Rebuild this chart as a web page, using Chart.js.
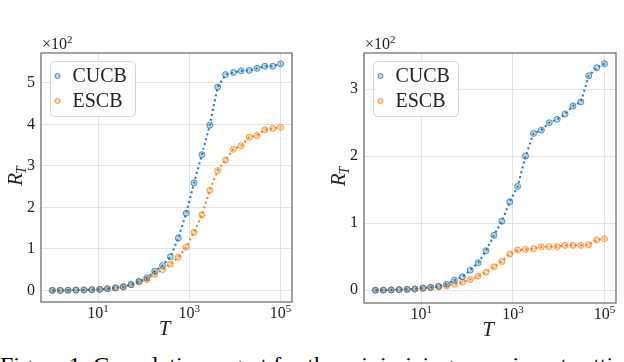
<!DOCTYPE html>
<html lang="en">
<head>
<meta charset="UTF-8">
<title>Cumulative regret</title>
<script src="https://cdn.jsdelivr.net/npm/chart.js"></script>
<style>
    body { margin: 0; width: 624px; height: 362px; overflow: hidden; background: #fff; position: relative; }
    .panel { position: absolute; top: 0; width: 312px; height: 340px; }
    #caption { position: absolute; left: 0; top: 353px; font-family: 'Liberation Serif', serif; font-size: 24px; line-height: 24px; white-space: nowrap; color: #000; }
</style>
</head>
<body>
    <div class="panel" style="left:0"><canvas id="leftChart" width="312" height="340"></canvas></div>
    <div class="panel" style="left:312px"><canvas id="rightChart" width="312" height="340"></canvas></div>
    <div id="caption">Figure 1: Cumulative regret for the minimizing experiment setting</div>

<script>
    // horizon values (log spaced, 30 points from 1 to 1e5)
    const T = [1, 1.487, 2.212, 3.290, 4.894, 7.279, 10.83, 16.10, 23.95, 35.62,
               52.98, 78.80, 117.2, 174.3, 259.3, 385.7, 573.7, 853.2, 1269, 1887,
               2807, 4175, 6210, 9237, 13738, 20434, 30392, 45204, 67234, 100000];
    const seriesNames = ['CUCB', 'ESCB'];
    const seriesColors = ['#1f77b4', '#ff7f0e'];
    const seriesEdges = ['rgba(31,119,180,0.75)', 'rgba(255,127,14,0.75)'];
    const seriesFills = ['rgba(31,119,180,0.3)', 'rgba(255,127,14,0.3)'];

    // regret in units of 10^2
    const cucbLeft = [0, 0, 0.005, 0.008, 0.01, 0.016, 0.024, 0.04, 0.06, 0.09,
                      0.14, 0.22, 0.30, 0.46, 0.60, 0.81, 1.26, 1.86, 2.59, 3.27,
                      3.98, 4.90, 5.20, 5.25, 5.29, 5.30, 5.35, 5.40, 5.40, 5.46];
    const escbLeft = [0, 0, 0, 0.008, 0.008, 0.016, 0.024, 0.04, 0.056, 0.08,
                      0.136, 0.20, 0.257, 0.39, 0.50, 0.63, 0.80, 1.04, 1.40, 1.82,
                      2.41, 2.89, 3.14, 3.40, 3.49, 3.69, 3.73, 3.87, 3.90, 3.93];
    const cucbRight = [0, 0.003, 0.006, 0.01, 0.015, 0.02, 0.035, 0.045, 0.06, 0.09,
                       0.15, 0.20, 0.30, 0.41, 0.59, 0.82, 1.03, 1.32, 1.55, 2.00,
                       2.34, 2.39, 2.50, 2.55, 2.63, 2.75, 2.81, 3.20, 3.32, 3.38];
    const escbRight = [0, 0.002, 0.005, 0.008, 0.012, 0.015, 0.025, 0.04, 0.05, 0.065,
                       0.09, 0.12, 0.16, 0.21, 0.27, 0.35, 0.43, 0.54, 0.60, 0.61,
                       0.62, 0.65, 0.65, 0.65, 0.67, 0.67, 0.67, 0.68, 0.75, 0.77];

    // ticks
    const xTicks = [10, 1000, 100000];
    const xTickExp = ['1', '3', '5'];
    const yTicksLeft = [0, 1, 2, 3, 4, 5];
    const yTicksRight = [0, 1, 2, 3];

    const serif = "'Liberation Serif', 'DejaVu Serif', serif";
    const textColor = '#222';

    // 文字・凡例・枠線を描くプラグイン
    const decorPlugin = {
        id: 'decor',
        afterDraw(chart) {
            const ctx = chart.ctx;
            const a = chart.chartArea;
            const xs = chart.scales.x;
            ctx.save();

            // frame
            ctx.strokeStyle = '#666';
            ctx.lineWidth = 1.2;
            ctx.strokeRect(a.left, a.top, a.right - a.left, a.bottom - a.top);

            ctx.fillStyle = textColor;
            ctx.textBaseline = 'alphabetic';

            // x tick labels 10^n
            xTicks.forEach((v, i) => {
                const px = xs.getPixelForValue(v);
                ctx.font = '16px ' + serif;
                const w1 = ctx.measureText('10').width;
                ctx.font = '11px ' + serif;
                const w2 = ctx.measureText(xTickExp[i]).width;
                const x0 = px - (w1 + w2) / 2;
                ctx.font = '16px ' + serif;
                ctx.textAlign = 'left';
                ctx.fillText('10', x0, a.bottom + 16);
                ctx.font = '11px ' + serif;
                ctx.fillText(xTickExp[i], x0 + w1, a.bottom + 10);
            });

            // offset text x10^2
            ctx.font = '16px ' + serif;
            ctx.textAlign = 'left';
            ctx.fillText('×10', a.left + 1, a.top - 4);
            const wm = ctx.measureText('×10').width;
            ctx.font = '11px ' + serif;
            ctx.fillText('2', a.left + 1 + wm, a.top - 10);

            // x label T
            ctx.font = 'italic 21px ' + serif;
            ctx.textAlign = 'center';
            ctx.fillText('T', (a.left + a.right) / 2 - 2, a.bottom + 33);

            // y label R_T
            ctx.save();
            ctx.translate(a.left - 26, (a.top + a.bottom) / 2 - 2);
            ctx.rotate(-Math.PI / 2);
            ctx.textAlign = 'left';
            ctx.font = 'italic 21px ' + serif;
            const wr = ctx.measureText('R').width;
            ctx.font = 'italic 14px ' + serif;
            const wt = ctx.measureText('T').width;
            const sx = -(wr + wt) / 2;
            ctx.font = 'italic 21px ' + serif;
            ctx.fillText('R', sx, 7);
            ctx.font = 'italic 14px ' + serif;
            ctx.fillText('T', sx + wr - 1, 11);
            ctx.restore();

            // legend
            const bx = a.left + 9.5, by = a.top + 8.5, bw = 85, bh = 55;
            ctx.fillStyle = 'rgba(255,255,255,0.85)';
            ctx.strokeStyle = '#d6d6d6';
            ctx.lineWidth = 1;
            ctx.beginPath();
            ctx.roundRect(bx, by, bw, bh, 4);
            ctx.fill();
            ctx.stroke();
            seriesNames.forEach((name, i) => {
                const ly = by + 14.5 + i * 25;
                ctx.beginPath();
                ctx.arc(bx + 7, ly, 2.6, 0, Math.PI * 2);
                ctx.fillStyle = seriesFills[i];
                ctx.fill();
                ctx.strokeStyle = seriesEdges[i];
                ctx.lineWidth = 1;
                ctx.stroke();
                ctx.fillStyle = textColor;
                ctx.font = '20px ' + serif;
                ctx.textAlign = 'left';
                ctx.textBaseline = 'middle';
                ctx.fillText(name, bx + 22, ly + 1);
            });

            ctx.restore();
        }
    };

    function makeChart(id, cucb, escb, yTicks, yMin, yMax, area) {
        const series = [cucb, escb];
        return new Chart(document.getElementById(id), {
            type: 'line',
            data: {
                datasets: series.map((vals, i) => ({
                    label: seriesNames[i],
                    data: T.map((t, k) => ({ x: t, y: vals[k] })),
                    borderColor: seriesColors[i],
                    backgroundColor: seriesFills[i],
                    borderWidth: 2,
                    borderDash: [2, 3],
                    pointRadius: 3,
                    pointBorderWidth: 1,
                    pointBorderColor: seriesEdges[i],
                    pointBackgroundColor: seriesFills[i],
                    tension: 0
                }))
            },
            options: {
                responsive: false,
                animation: false,
                layout: { padding: { top: area.top, right: area.right, left: 0, bottom: 0 } },
                plugins: { legend: { display: false }, tooltip: { enabled: false } },
                scales: {
                    x: {
                        type: 'logarithmic',
                        min: Math.pow(10, -0.25),
                        max: Math.pow(10, 5.25),
                        afterBuildTicks: s => { s.ticks = xTicks.map(v => ({ value: v })); },
                        afterFit: s => { s.height = area.xHeight; },
                        grid: { color: '#e3e3e3', drawTicks: false },
                        border: { display: false },
                        ticks: { display: false }
                    },
                    y: {
                        min: yMin,
                        max: yMax,
                        afterBuildTicks: s => { s.ticks = yTicks.map(v => ({ value: v })); },
                        afterFit: s => { s.width = area.yWidth; },
                        grid: { color: '#e3e3e3', drawTicks: false },
                        border: { display: false },
                        ticks: {
                            padding: 6,
                            color: textColor,
                            font: { family: serif, size: 16 }
                        }
                    }
                }
            },
            plugins: [decorPlugin]
        });
    }

    makeChart('leftChart', cucbLeft, escbLeft, yTicksLeft, -0.28, 5.72,
              { top: 53, right: 20, yWidth: 41, xHeight: 38 });
    makeChart('rightChart', cucbRight, escbRight, yTicksRight, -0.19, 3.54,
              { top: 53, right: 8, yWidth: 52, xHeight: 37 });
</script>
</body>
</html>
